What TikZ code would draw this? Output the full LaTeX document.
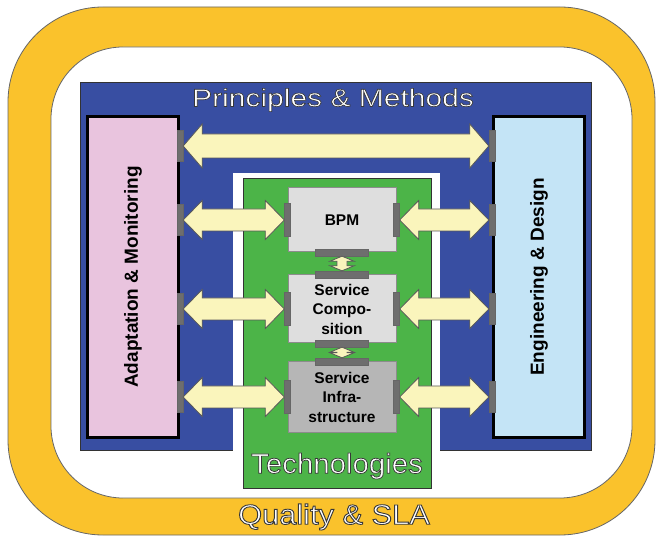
\documentclass[tikz,border=0pt]{standalone}
\usepackage{fontspec}
\setsansfont{Liberation Sans}
\usetikzlibrary{calc}

\definecolor{qyellow}{RGB}{250,194,44}
\definecolor{pmblue}{RGB}{56,78,162}
\definecolor{techgreen}{RGB}{76,180,72}
\definecolor{ampink}{RGB}{233,196,222}
\definecolor{edblue}{RGB}{196,228,246}
\definecolor{boxgray}{RGB}{222,222,222}
\definecolor{infragray}{RGB}{182,182,182}
\definecolor{bargray}{RGB}{110,110,110}
\definecolor{arrowyellow}{RGB}{250,245,188}

% white text with a dark stroke round the letters
\newcommand{\outlinetext}[2]{%
  \special{pdf:code q 2 Tr #1 w 0.22 0.22 0.22 RG}#2\special{pdf:code Q}}

% fat double arrow, tips at #1 (left) and #2 (right)
\newcommand{\fatarrow}[4]{%
\draw[arrowfill] let \p1=#1, \p2=#2 in
  (\x1,\y1) -- (\x1+19pt,\y1+#3) -- (\x1+19pt,\y1+#4) -- (\x2-19pt,\y2+#4)
  -- (\x2-19pt,\y2+#3) -- (\x2,\y2) -- (\x2-19pt,\y2-#3) -- (\x2-19pt,\y2-#4)
  -- (\x1+19pt,\y1-#4) -- (\x1+19pt,\y1-#3) -- cycle;}
% small vertical one, tips at #1 (top) and #2 (bottom)
\newcommand{\vfatarrow}[4]{%
\draw[arrowfill] let \p1=#1, \p2=#2 in
  (\x1,\y1) -- (\x1+#3,\y1-5pt) -- (\x1+#4,\y1-5pt) -- (\x2+#4,\y2+5pt)
  -- (\x2+#3,\y2+5pt) -- (\x2,\y2) -- (\x2-#3,\y2+5pt) -- (\x2-#4,\y2+5pt)
  -- (\x1-#4,\y1-5pt) -- (\x1-#3,\y1-5pt) -- cycle;}

\tikzset{
  layer/.style={draw=black!80, line width=1.2pt, anchor=north west, inner sep=0pt},
  sidebox/.style={draw=black, line width=3pt, inner sep=0pt, minimum width=91, minimum height=320,
    font=\sffamily\bfseries\fontsize{19}{22}\selectfont},
  techbox/.style={draw=black!45, line width=1pt, fill=boxgray, inner sep=0pt, minimum width=108,
    align=center, font=\sffamily\bfseries\fontsize{15.5}{19.5}\selectfont},
  vbar/.style={fill=bargray, draw=black!60, line width=0.4pt, minimum width=6, minimum height=33, inner sep=0pt},
  hbar/.style={fill=bargray, draw=black!60, line width=0.4pt, minimum width=53, minimum height=7, inner sep=0pt},
  arrowfill/.style={fill=arrowyellow, draw=black!65, line width=0.8pt, line join=miter},
  outlined/.style={text=white, inner sep=0pt, font=\sffamily\fontsize{#1}{#1}\selectfont},
}

\begin{document}
\begin{tikzpicture}[x=1pt,y=-1pt]
\useasboundingbox (0,0) rectangle (659,537);

% quality band
\draw[draw=black!60, line width=0.8pt, fill=qyellow, rounded corners=95] (8,7) rectangle (655,535);
\draw[draw=black!60, line width=0.8pt, fill=white, rounded corners=72] (51,47) rectangle (632,498);
\node[outlined=28] (qsla) at (334,517) {\scalebox{1.1}[1]{\outlinetext{0.9}{Quality \& SLA}}};

% principles & methods
\node[layer, fill=pmblue, minimum width=511, minimum height=368] (pm) at (80,82) {};
\node[outlined=25] (pmlabel) at (333,100) {\scalebox{1.2}[1]{\outlinetext{0.6}{Principles \& Methods}}};
\node[sidebox, fill=ampink] (am) at (133,277) {\rotatebox{90}{Adaptation \& Monitoring}};
\node[sidebox, fill=edblue] (ed) at (539,277) {\rotatebox{90}{Engineering \& Design}};

% technologies
\node[layer, draw=none, fill=white, minimum width=207, minimum height=278] (techframe) at (232,172) {};
\node[layer, fill=techgreen, minimum width=188, minimum height=310] (tech) at (243,178) {};
\node[outlined=28] (techlabel) at (337,466) {\scalebox{1.05}[1]{\outlinetext{0.7}{Technologies}}};

\node[techbox, minimum height=64] (bpm) at (342,220) {BPM};
\node[techbox, minimum height=68] (sc) at (342,309) {Service\\Compo-\\sition};
\node[techbox, minimum height=70, fill=infragray] (si) at (342,397) {Service\\Infra-\\structure};

% connector bars
\foreach \b in {bpm,sc,si} {
  \node[vbar] (\b-l) at (\b.west) {};
  \node[vbar] (\b-r) at (\b.east) {};
}
\node[hbar] (bpm-b) at (bpm.south) {};
\node[hbar] (sc-t) at (sc.north) {};
\node[hbar] (sc-b) at (sc.south) {};
\node[hbar] (si-t) at (si.north) {};
\foreach \y/\n in {146/1,220/2,309/3,397/4} {
  \node[vbar, minimum height=31] (am-\n) at (am.east |- 0,\y) {};
  \node[vbar, minimum height=31] (ed-\n) at (ed.west |- 0,\y) {};
}

% arrows
\fatarrow{(am-1.east)}{(ed-1.west)}{22pt}{12pt}
\fatarrow{(am-2.east)}{(bpm-l.west)}{19.5pt}{11pt}
\fatarrow{(am-3.east)}{(sc-l.west)}{19.5pt}{11pt}
\fatarrow{(am-4.east)}{(si-l.west)}{19.5pt}{11pt}
\fatarrow{(bpm-r.east)}{(ed-2.west)}{19.5pt}{11pt}
\fatarrow{(sc-r.east)}{(ed-3.west)}{19.5pt}{11pt}
\fatarrow{(si-r.east)}{(ed-4.west)}{19.5pt}{11pt}
\vfatarrow{(bpm-b.south)}{(sc-t.north)}{12pt}{5pt}
\vfatarrow{(sc-b.south)}{(si-t.north)}{12pt}{5pt}
\end{tikzpicture}
\end{document}
